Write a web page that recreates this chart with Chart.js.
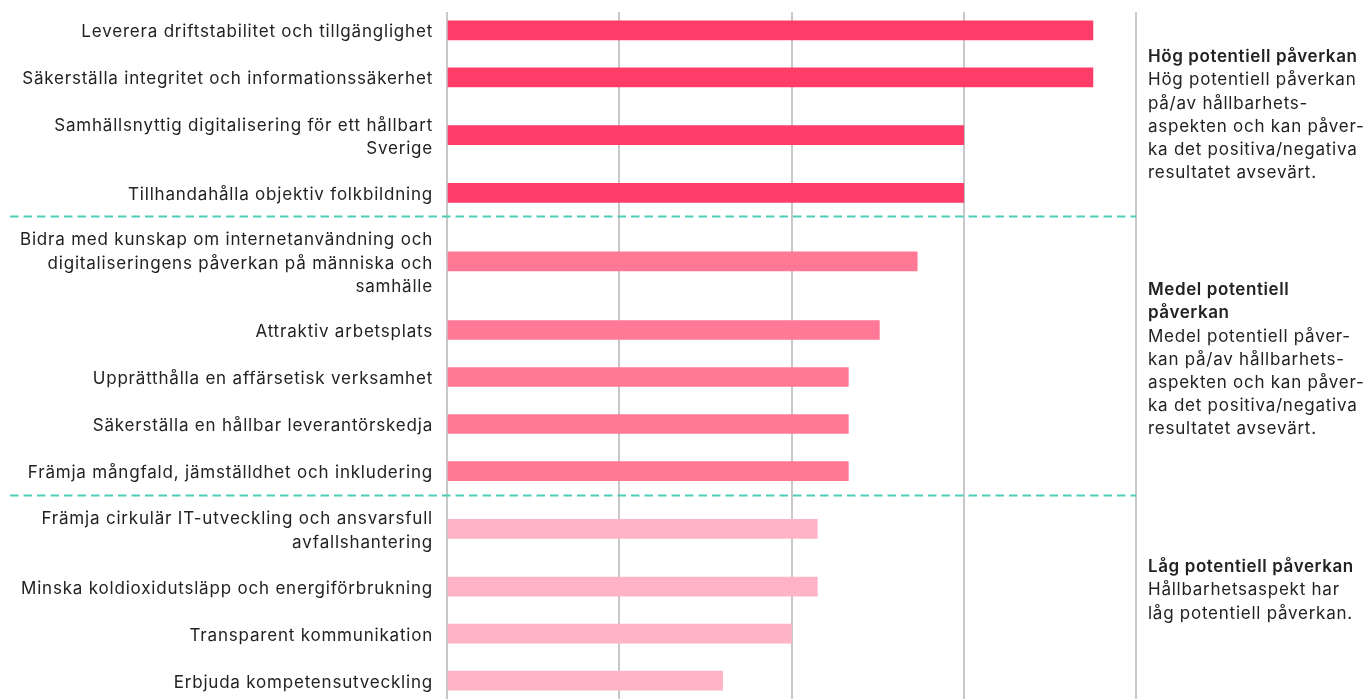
<!DOCTYPE html>
<html>
<head>
	<meta charset="utf-8">
	<script src="https://cdn.jsdelivr.net/npm/chart.js@4.4.0/dist/chart.umd.min.js"></script>
	<title>Hållbarhetsaspekter</title>
	<style>
		html, body { margin: 0; padding: 0; background: #fff; }
		#wrap { width: 1366px; height: 699px; }
	</style>
</head>
<body>
	<div id="wrap"><canvas id="myChart"></canvas></div>
	<script type="text/javascript">
		// aspekter, uppdelade på rader som i originalet
		const aspects = [
			['Leverera driftstabilitet och tillgänglighet'],
			['Säkerställa integritet och informationssäkerhet'],
			['Samhällsnyttig digitalisering för ett hållbart', 'Sverige'],
			['Tillhandahålla objektiv folkbildning'],
			['Bidra med kunskap om internetanvändning och', 'digitaliseringens påverkan på människa och', 'samhälle'],
			['Attraktiv arbetsplats'],
			['Upprätthålla en affärsetisk verksamhet'],
			['Säkerställa en hållbar leverantörskedja'],
			['Främja mångfald, jämställdhet och inkludering'],
			['Främja cirkulär IT-utveckling och ansvarsfull', 'avfallshantering'],
			['Minska koldioxidutsläpp och energiförbrukning'],
			['Transparent kommunikation'],
			['Erbjuda kompetensutveckling']
		];
		const scores = [3.75, 3.75, 3, 3, 2.73, 2.51, 2.33, 2.33, 2.33, 2.15, 2.15, 2, 1.6];
		// 0 = hög, 1 = medel, 2 = låg
		const level = [0, 0, 0, 0, 1, 1, 1, 1, 1, 2, 2, 2, 2];
		const xTicks = [0, 1, 2, 3, 4];

		const levelColors = ['#ff3d68', '#ff7896', '#ffb3c6'];
		const levelText = [
			{ title: ['Hög potentiell påverkan'], body: ['Hög potentiell påverkan', 'på/av hållbarhets-', 'aspekten och kan påver-', 'ka det positiva/negativa', 'resultatet avsevärt.'], top: 57 },
			{ title: ['Medel potentiell', 'påverkan'], body: ['Medel potentiell påver-', 'kan på/av hållbarhets-', 'aspekten och kan påver-', 'ka det positiva/negativa', 'resultatet avsevärt.'], top: 290 },
			{ title: ['Låg potentiell påverkan'], body: ['Hållbarhetsaspekt har', 'låg potentiell påverkan.'], top: 567 }
		];

		// radernas höjd beror på hur många textrader etiketten har
		const extraLine = 0.457;
		let rowPos = [];
		let rowEdge = [];
		let acc = 0;
		for (let i = 0; i < aspects.length; i++) {
			let h = 1 + extraLine * (aspects[i].length - 1);
			rowPos.push(acc + h / 2);
			acc += h;
			rowEdge.push(acc);
		}

		let points = [];
		for (let i = 0; i < scores.length; i++) {
			points.push({ x: scores[i], y: rowPos[i] });
		}

		const FONT = 'Inter, "Open Sans", sans-serif';

		const spacing = {
			id: 'spacing',
			beforeDraw(chart) {
				chart.ctx.letterSpacing = '0.8px';
			}
		};

		const groupLines = {
			id: 'groupLines',
			afterDatasetsDraw(chart) {
				const ctx = chart.ctx;
				const y = chart.scales.y;
				const area = chart.chartArea;
				ctx.save();
				ctx.strokeStyle = '#4fcdb9';
				ctx.lineWidth = 2;
				ctx.setLineDash([8.5, 5]);
				for (let i = 0; i < level.length - 1; i++) {
					if (level[i] !== level[i + 1]) {
						let py = Math.round(y.getPixelForValue(rowEdge[i])) + 0.5;
						ctx.beginPath();
						ctx.moveTo(10, py);
						ctx.lineTo(area.right, py);
						ctx.stroke();
					}
				}
				ctx.setLineDash([]);
				// förklaringar till höger
				ctx.fillStyle = '#222';
				ctx.textBaseline = 'middle';
				ctx.textAlign = 'left';
				const lx = area.right + 12;
				levelText.forEach(t => {
					let ly = t.top;
					ctx.font = '600 17px ' + FONT;
					ctx.letterSpacing = '0.6px';
					t.title.forEach(line => {
						ctx.fillText(line, lx, ly);
						ly += 23.2;
					});
					ctx.font = '17px ' + FONT;
					ctx.letterSpacing = '0.75px';
					t.body.forEach(line => {
						ctx.fillText(line, lx, ly);
						ly += 23.2;
					});
				});
				ctx.restore();
			}
		};

		const ctx = document.getElementById('myChart');
		const myChart = new Chart(ctx, {
			type: 'bar',
			data: {
				datasets: [{
					data: points,
					backgroundColor: level.map(l => levelColors[l]),
					borderWidth: 0,
					barThickness: 19
				}]
			},
			options: {
				indexAxis: 'y',
				responsive: true,
				maintainAspectRatio: false,
				animation: false,
				layout: { padding: { top: 12, right: 230, bottom: 0, left: 0 } },
				plugins: {
					legend: { display: false },
					tooltip: { enabled: false }
				},
				scales: {
					x: {
						type: 'linear',
						min: 0,
						max: 4,
						afterBuildTicks: scale => { scale.ticks = xTicks.map(v => ({ value: v })); },
						afterFit: scale => { scale.height = 0; scale.paddingLeft = 0; scale.paddingRight = 0; },
						ticks: { display: false },
						border: { display: false },
						grid: { color: '#c8c8c8', lineWidth: 2, drawTicks: false }
					},
					y: {
						type: 'linear',
						reverse: true,
						offset: false,
						min: rowPos[0] - 0.39,
						max: rowPos[rowPos.length - 1] + 0.39,
						afterBuildTicks: scale => { scale.ticks = rowPos.map(v => ({ value: v })); },
						afterFit: scale => { scale.width = 447; scale.paddingTop = 0; scale.paddingBottom = 0; },
						ticks: {
							autoSkip: false,
							padding: 14,
							labelOffset: 2,
							color: '#222',
							font: { family: FONT, size: 17, lineHeight: 1.38 },
							callback: (value, index) => aspects[index]
						},
						border: { display: false },
						grid: { display: false, drawTicks: false, offset: false }
					}
				}
			},
			plugins: [spacing, groupLines]
		});
	</script>
</body>
</html>
